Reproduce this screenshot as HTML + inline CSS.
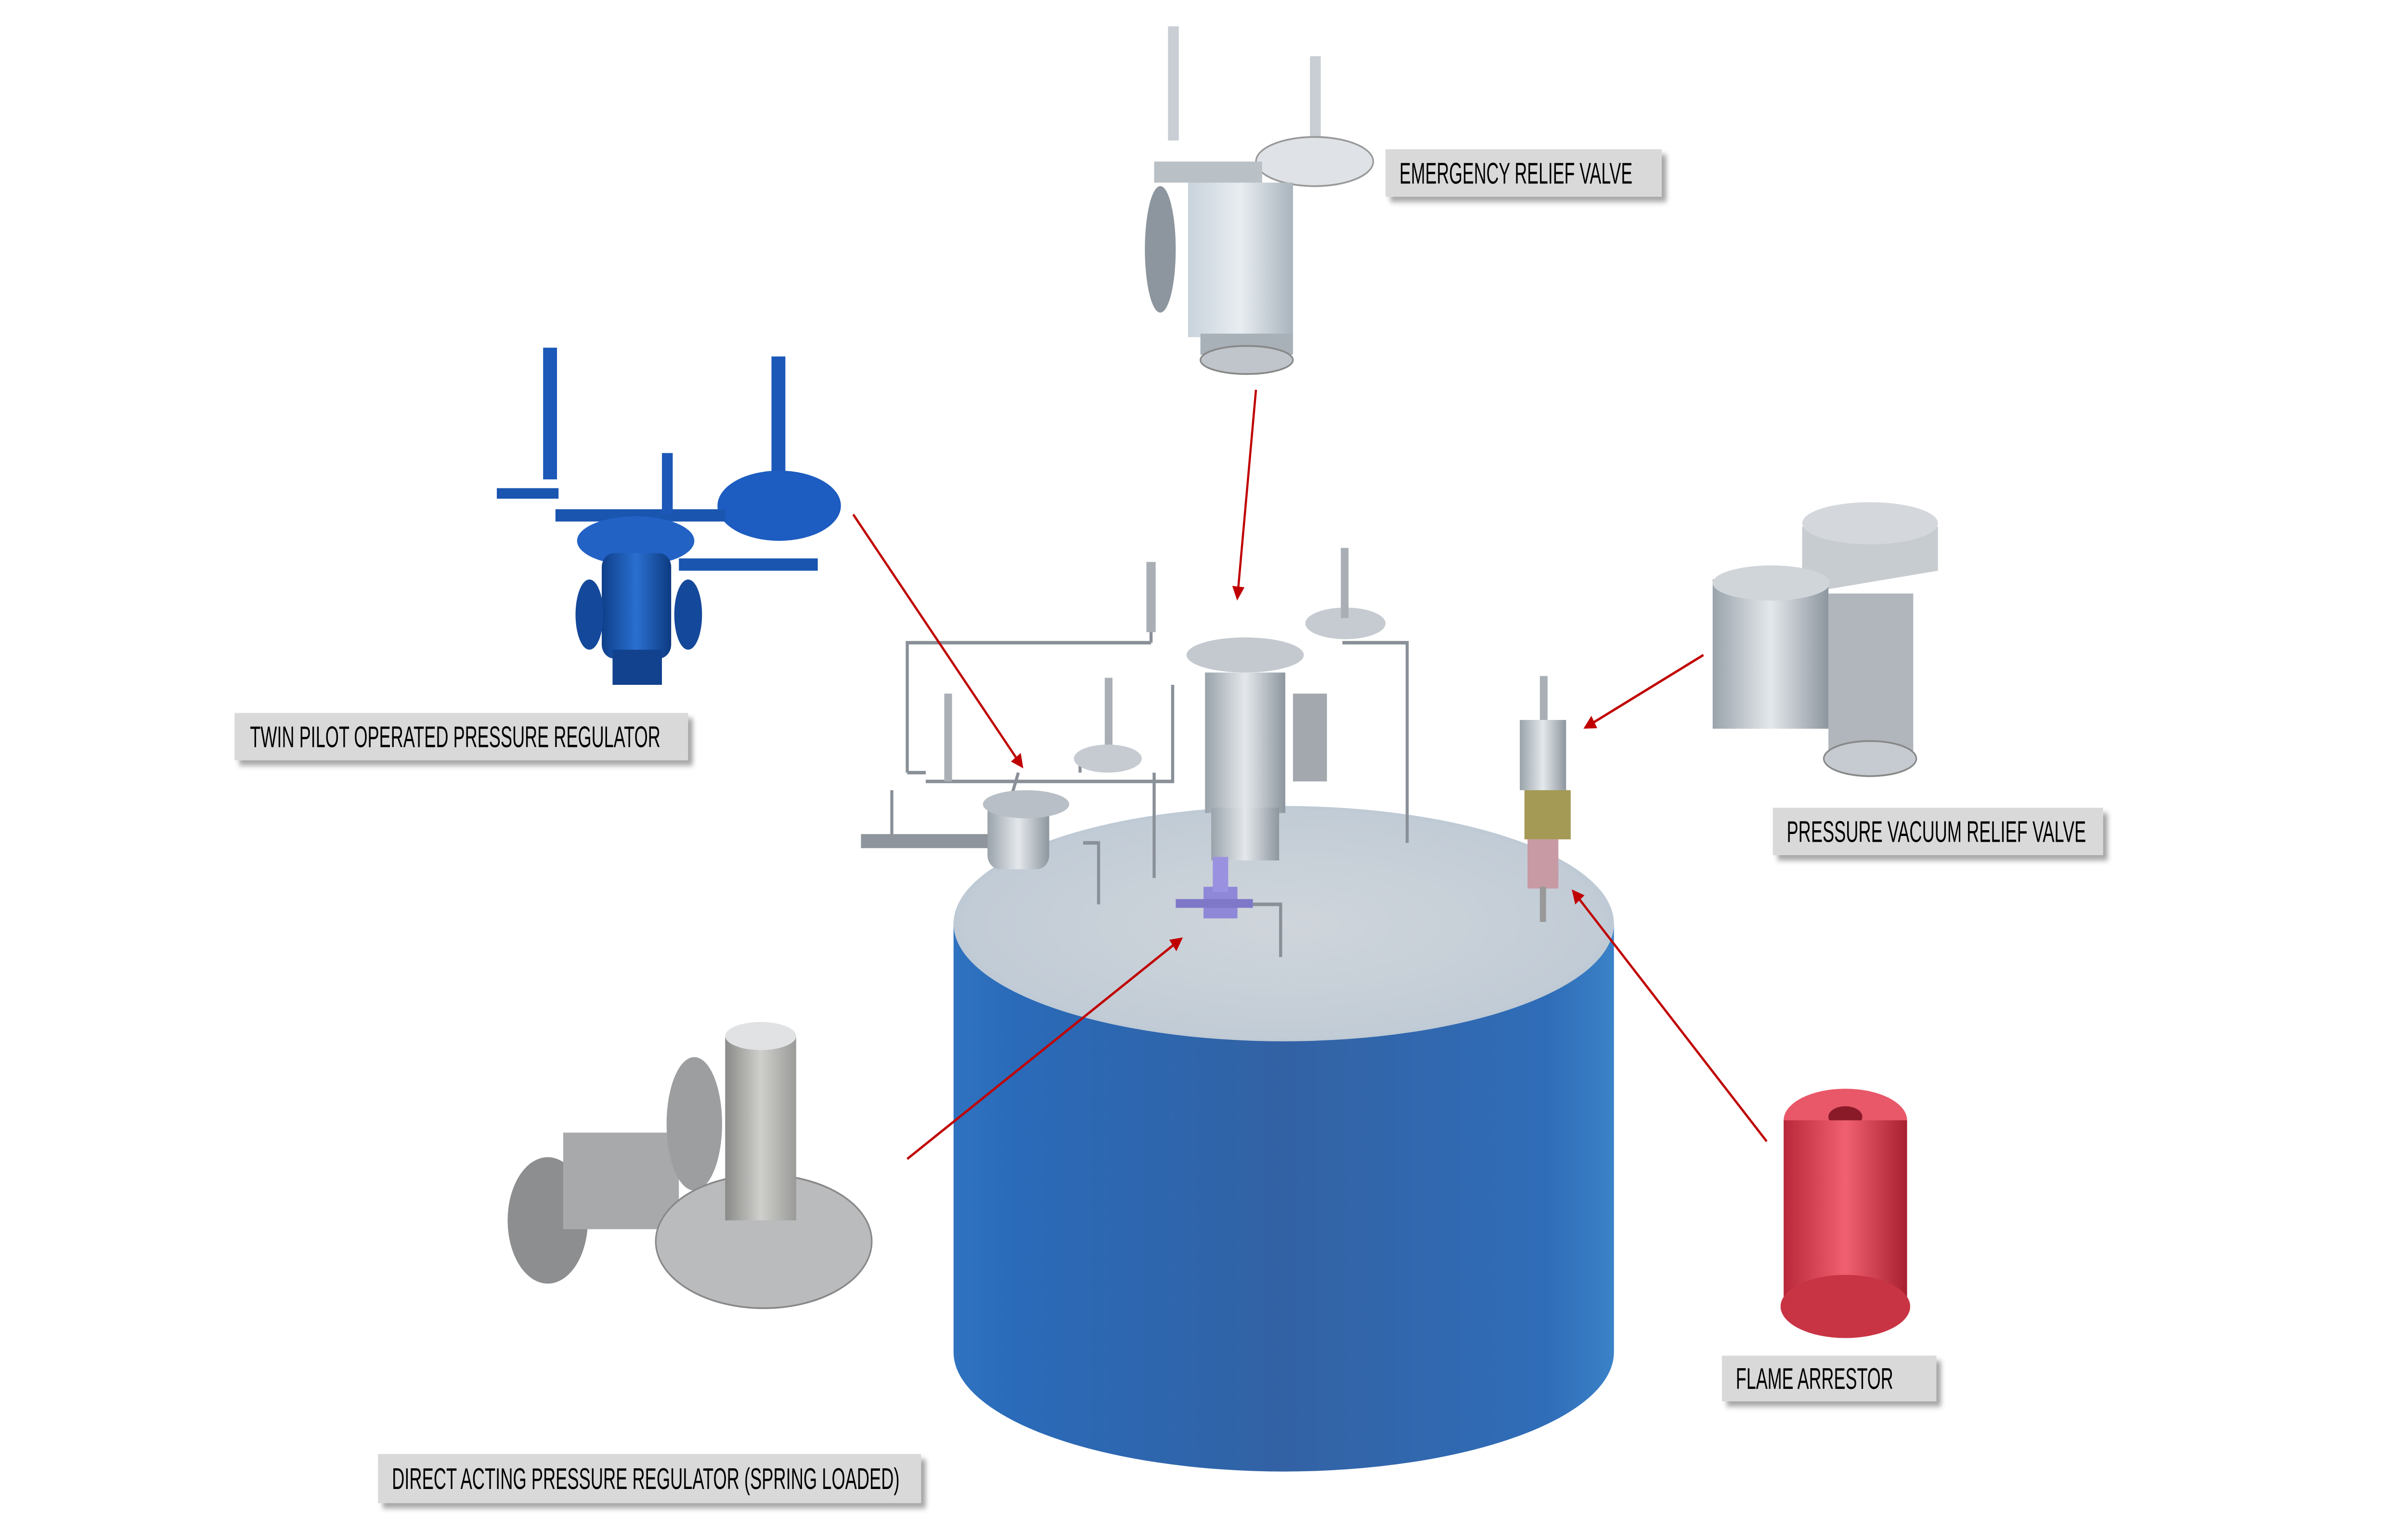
<!DOCTYPE html>
<html><head><meta charset="utf-8"><style>
html,body{margin:0;padding:0;background:#fff;overflow:hidden;width:100%;height:100%;}
svg{display:block;position:fixed;left:0;top:0;width:100vw;height:100vh;}
text{font-family:"Liberation Sans",sans-serif;font-size:17px;fill:#000;}
</style></head><body>
<svg viewBox="0 0 1560 877" preserveAspectRatio="none" xmlns="http://www.w3.org/2000/svg">
<defs>
<linearGradient id="tb" x1="0" x2="1" y1="0" y2="0">
<stop offset="0" stop-color="#2f73c0"/><stop offset="0.1" stop-color="#2a6ab8"/>
<stop offset="0.5" stop-color="#3262a4"/><stop offset="0.9" stop-color="#306db8"/><stop offset="1" stop-color="#3a82c8"/></linearGradient>
<radialGradient id="tt" cx="0.5" cy="0.5" r="0.6"><stop offset="0" stop-color="#cfd5db"/><stop offset="0.8" stop-color="#c2ccd6"/><stop offset="1" stop-color="#a9bcd0"/></radialGradient>
<linearGradient id="gm" x1="0" x2="1"><stop offset="0" stop-color="#9aa3ab"/><stop offset="0.5" stop-color="#e4e8ec"/><stop offset="1" stop-color="#8d969e"/></linearGradient>
<linearGradient id="gp" x1="0" x2="1"><stop offset="0" stop-color="#c9d3dc"/><stop offset="0.5" stop-color="#e8edf1"/><stop offset="1" stop-color="#a9b4bd"/></linearGradient>
<linearGradient id="bl" x1="0" x2="1"><stop offset="0" stop-color="#0e3f8a"/><stop offset="0.5" stop-color="#2a6fd0"/><stop offset="1" stop-color="#0d3a80"/></linearGradient>
<linearGradient id="rd" x1="0" x2="1"><stop offset="0" stop-color="#b8283a"/><stop offset="0.5" stop-color="#f06070"/><stop offset="1" stop-color="#a82030"/></linearGradient>
<linearGradient id="da" x1="0" x2="1"><stop offset="0" stop-color="#8a8a88"/><stop offset="0.5" stop-color="#cfcfcc"/><stop offset="1" stop-color="#9a9a98"/></linearGradient>
<filter id="sh" x="-5%" y="-20%" width="115%" height="160%"><feDropShadow dx="3" dy="3" stdDeviation="1.5" flood-color="#000" flood-opacity="0.35"/></filter>
<marker id="ah" markerWidth="8" markerHeight="8" refX="6" refY="4" orient="auto" markerUnits="userSpaceOnUse"><path d="M0,0 L8,4 L0,8 z" fill="#c00000"/></marker>
</defs>

<path d="M618,525 L618,770 A214,68 0 0 0 1046,770 L1046,525 Z" fill="url(#tb)"/>
<ellipse cx="832" cy="526" rx="214" ry="67" fill="url(#tt)"/>

<g stroke="#8a9098" stroke-width="2" fill="none">
<path d="M588,440 L588,366 L746,366 M746,366 L746,340"/>
<path d="M588,440 L600,440 M578,450 L578,478 M700,430 L700,440"/>
<path d="M870,366 L912,366 L912,480"/>
<path d="M600,445 L760,445 L760,390 M650,470 L660,440"/>
<path d="M702,480 L712,480 L712,515 M810,515 L830,515 L830,545"/>
<path d="M748,440 L748,500"/>
</g>
<rect x="558" y="475" width="120" height="8" fill="#8f959c"/>
<rect x="640" y="455" width="40" height="40" rx="8" fill="url(#gm)"/>
<ellipse cx="665" cy="458" rx="28" ry="8" fill="#b8bfc6"/>
<rect x="781" y="383" width="52" height="80" fill="url(#gm)"/>
<rect x="785" y="460" width="44" height="30" fill="url(#gm)"/>
<ellipse cx="807" cy="373" rx="38" ry="10" fill="#c3c9cf"/>
<rect x="838" y="395" width="22" height="50" fill="#a2a8ae"/>
<ellipse cx="872" cy="355" rx="26" ry="9" fill="#c5cbd1"/>
<rect x="869" y="312" width="5" height="40" fill="#a9afb5"/>
<rect x="743" y="320" width="6" height="40" fill="#a9afb5"/>
<rect x="716" y="386" width="5" height="40" fill="#a9afb5"/>
<ellipse cx="718" cy="432" rx="22" ry="8" fill="#c5cbd1"/>
<rect x="612" y="395" width="5" height="50" fill="#a9afb5"/>
<rect x="780" y="505" width="22" height="18" fill="#8f88d8"/>
<rect x="786" y="488" width="10" height="20" fill="#9a92e0"/>
<rect x="762" y="512" width="50" height="5" fill="#7f78c8"/>
<rect x="998" y="385" width="5" height="30" fill="#a9afb5"/>
<rect x="985" y="410" width="30" height="40" fill="url(#gm)"/>
<rect x="988" y="450" width="30" height="28" fill="#a59a55"/>
<rect x="990" y="478" width="20" height="28" fill="#c89aa4"/>
<rect x="998" y="505" width="4" height="20" fill="#999"/>

<rect x="757" y="15" width="7" height="65" fill="#c8ced4"/>
<rect x="849" y="32" width="7" height="55" fill="#c8ced4"/>
<ellipse cx="852" cy="92" rx="38" ry="14" fill="#dfe3e7" stroke="#999" stroke-width="1"/>
<rect x="748" y="92" width="70" height="12" fill="#b9c0c6"/>
<ellipse cx="752" cy="142" rx="10" ry="36" fill="#8d969e"/>
<rect x="770" y="104" width="68" height="88" fill="url(#gp)"/>
<rect x="778" y="190" width="60" height="12" fill="#a8b0b8"/>
<ellipse cx="808" cy="205" rx="30" ry="8" fill="#bfc5cb" stroke="#888" stroke-width="1"/>

<rect x="352" y="198" width="9" height="75" fill="#1b58b8"/>
<rect x="500" y="203" width="9" height="75" fill="#1b58b8"/>
<ellipse cx="505" cy="288" rx="40" ry="20" fill="#1d5cc0"/>
<rect x="322" y="278" width="40" height="6" fill="#1a55b0"/>
<rect x="360" y="290" width="110" height="7" fill="#1a55b0"/>
<rect x="440" y="318" width="90" height="7" fill="#1a55b0"/>
<ellipse cx="412" cy="308" rx="38" ry="14" fill="#2262c5"/>
<rect x="390" y="315" width="45" height="60" rx="8" fill="url(#bl)"/>
<ellipse cx="382" cy="350" rx="9" ry="20" fill="#14489a"/>
<ellipse cx="446" cy="350" rx="9" ry="20" fill="#14489a"/>
<rect x="397" y="370" width="32" height="20" fill="#12428e"/>
<rect x="429" y="258" width="7" height="35" fill="#1b58b8"/>

<path d="M1168,300 L1256,300 L1256,325 L1168,338 Z" fill="#c7ccd1"/>
<ellipse cx="1212" cy="298" rx="44" ry="12" fill="#d4d8dc"/>
<rect x="1110" y="330" width="75" height="85" fill="url(#gm)"/>
<ellipse cx="1148" cy="332" rx="38" ry="10" fill="#d0d5da"/>
<rect x="1185" y="338" width="55" height="90" fill="#b0b6bc"/>
<ellipse cx="1212" cy="432" rx="30" ry="10" fill="#c5cbd0" stroke="#888" stroke-width="1"/>

<ellipse cx="355" cy="695" rx="26" ry="36" fill="#8c8e90"/>
<rect x="365" y="645" width="75" height="55" fill="#a7a9ab"/>
<ellipse cx="450" cy="640" rx="18" ry="38" fill="#9c9ea0"/>
<ellipse cx="495" cy="707" rx="70" ry="38" fill="#b9bbbd" stroke="#888" stroke-width="1"/>
<rect x="470" y="590" width="46" height="105" fill="url(#da)"/>
<ellipse cx="493" cy="590" rx="23" ry="8" fill="#e0e2e4"/>

<ellipse cx="1196" cy="638" rx="40" ry="18" fill="#e85868"/>
<ellipse cx="1196" cy="636" rx="11" ry="6" fill="#8a1a28"/>
<rect x="1156" y="638" width="80" height="105" fill="url(#rd)"/>
<ellipse cx="1196" cy="744" rx="42" ry="18" fill="#c83444"/>

<g stroke="#c00000" stroke-width="1.4" fill="none" marker-end="url(#ah)">
<line x1="814" y1="222" x2="802" y2="340"/>
<line x1="553" y1="293" x2="662" y2="436"/>
<line x1="1104" y1="373" x2="1028" y2="414"/>
<line x1="1145" y1="650" x2="1020" y2="508"/>
<line x1="588" y1="660" x2="765" y2="535"/>
</g>

<g filter="url(#sh)" fill="#d9d9d9">
<rect x="898" y="85" width="179" height="27"/>
<rect x="152" y="406" width="294" height="27"/>
<rect x="1149" y="460" width="214" height="27"/>
<rect x="1116" y="772" width="139" height="26"/>
<rect x="245" y="828" width="352" height="28"/>
</g>
<text x="907" y="104.5" textLength="151" lengthAdjust="spacingAndGlyphs">EMERGENCY RELIEF VALVE</text>
<text x="162" y="425.5" textLength="266" lengthAdjust="spacingAndGlyphs">TWIN PILOT OPERATED PRESSURE REGULATOR</text>
<text x="1158" y="479.5" textLength="194" lengthAdjust="spacingAndGlyphs">PRESSURE VACUUM RELIEF VALVE</text>
<text x="1125" y="791" textLength="102" lengthAdjust="spacingAndGlyphs">FLAME ARRESTOR</text>
<text x="254" y="848" textLength="329" lengthAdjust="spacingAndGlyphs">DIRECT ACTING PRESSURE REGULATOR  (SPRING LOADED)</text>
</svg>
</body></html>
